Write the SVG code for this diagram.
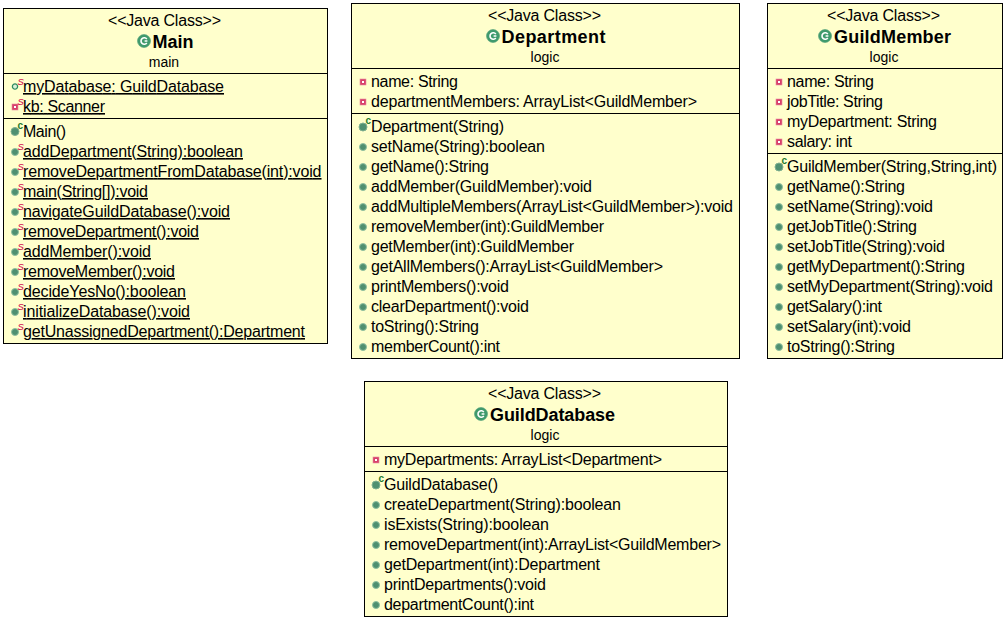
<svg xmlns="http://www.w3.org/2000/svg" width="1006" height="620" viewBox="0 0 1006 620">
<style>
text{font-family:"Liberation Sans",Arial,sans-serif;font-size:16px;fill:#000}
.box{fill:#ffffcc;stroke:#000;stroke-width:1}
.div{stroke:#000;stroke-width:1;fill:none}
.st{text-anchor:middle}
.nm{font-size:18px;font-weight:bold;text-anchor:middle}
.pk{font-size:14px;text-anchor:middle}
.u{text-decoration:underline}
.mod{font-size:9.5px;font-style:italic;fill:#d0004a}
.modc{font-size:10px;font-weight:bold;fill:#1f7a2f}
</style>
<defs>
<g id="cls"><circle r="6.5" fill="#3f9a6c" stroke="#4f9f78" stroke-width="0.6"/><path d="M2.8-1.9A3.2 3.2 0 1 0 2.8 1.9M3.4 0H0.6" fill="none" stroke="#fff" stroke-width="1.6"/></g>
<g id="pub"><circle r="3.5" fill="#4f9070" stroke="#8fc0a0" stroke-width="1"/></g>
<g id="ctor"><circle r="4" fill="#4f9070" stroke="#7fb090" stroke-width="1"/></g>
<g id="fld"><circle r="2.6" fill="#d8f0d8" stroke="#2f8a60" stroke-width="1.3"/></g>
<g id="prv"><rect x="-3" y="-3" width="6" height="6" fill="#d8406a" stroke="#e88aa0" stroke-width="0.6"/><rect x="-1" y="-1" width="2" height="2" fill="#fff"/></g>
</defs>
<g id="connectors"/>
<g id="main-class">
<rect class="box" x="3.5" y="8.5" width="324" height="335"/>
<path class="div" d="M3.5 73.5H327.5M3.5 118.5H327.5"/>
<text class="st" x="164.5" y="26" textLength="113">&lt;&lt;Java Class&gt;&gt;</text>
<use href="#cls" x="144" y="41"/>
<text class="nm" x="173" y="48">Main</text>
<text class="pk" x="164" y="67">main</text>
<use href="#fld" x="15" y="86.5"/><text class="mod" x="17.5" y="84.5">S</text><text class="u" x="23" y="92" textLength="201">myDatabase: GuildDatabase</text>
<use href="#prv" x="15" y="107"/><text class="mod" x="17.5" y="104.5">S</text><text class="u" x="23" y="112" textLength="82">kb: Scanner</text>
<use href="#ctor" x="15" y="131.5"/><text class="modc" x="17.5" y="129">c</text><text x="23" y="137" textLength="43">Main()</text>
<use href="#pub" x="15" y="152"/><text class="mod" x="17.5" y="149.5">S</text><text class="u" x="23" y="157" textLength="220">addDepartment(String):boolean</text>
<use href="#pub" x="15" y="172"/><text class="mod" x="17.5" y="169.5">S</text><text class="u" x="23" y="177" textLength="298.5">removeDepartmentFromDatabase(int):void</text>
<use href="#pub" x="15" y="192"/><text class="mod" x="17.5" y="189.5">S</text><text class="u" x="23" y="197" textLength="125">main(String[]):void</text>
<use href="#pub" x="15" y="212"/><text class="mod" x="17.5" y="209.5">S</text><text class="u" x="23" y="217" textLength="207">navigateGuildDatabase():void</text>
<use href="#pub" x="15" y="232"/><text class="mod" x="17.5" y="229.5">S</text><text class="u" x="23" y="237" textLength="176">removeDepartment():void</text>
<use href="#pub" x="15" y="252"/><text class="mod" x="17.5" y="249.5">S</text><text class="u" x="23" y="257" textLength="128">addMember():void</text>
<use href="#pub" x="15" y="272"/><text class="mod" x="17.5" y="269.5">S</text><text class="u" x="23" y="277" textLength="152">removeMember():void</text>
<use href="#pub" x="15" y="292"/><text class="mod" x="17.5" y="289.5">S</text><text class="u" x="23" y="297" textLength="163">decideYesNo():boolean</text>
<use href="#pub" x="15" y="312"/><text class="mod" x="17.5" y="309.5">S</text><text class="u" x="23" y="317" textLength="167">initializeDatabase():void</text>
<use href="#pub" x="15" y="332"/><text class="mod" x="17.5" y="329.5">S</text><text class="u" x="23" y="337" textLength="282">getUnassignedDepartment():Department</text>
</g>
<g id="department">
<rect class="box" x="351.5" y="3.5" width="388" height="355"/>
<path class="div" d="M351.5 68.5H739.5M351.5 113.5H739.5"/>
<text class="st" x="544.5" y="21" textLength="113">&lt;&lt;Java Class&gt;&gt;</text>
<use href="#cls" x="493" y="36"/>
<text class="nm" x="553.5" y="43" textLength="104">Department</text>
<text class="pk" x="545" y="62">logic</text>
<use href="#prv" x="363" y="82"/><text x="371" y="87" textLength="87">name: String</text>
<use href="#prv" x="363" y="102"/><text x="371" y="107" textLength="326">departmentMembers: ArrayList&lt;GuildMember&gt;</text>
<use href="#ctor" x="363" y="127"/><text class="modc" x="365.5" y="124">c</text><text x="371" y="132" textLength="133">Department(String)</text>
<use href="#pub" x="363" y="147"/><text x="371" y="152" textLength="174">setName(String):boolean</text>
<use href="#pub" x="363" y="167"/><text x="371" y="172" textLength="118">getName():String</text>
<use href="#pub" x="363" y="187"/><text x="371" y="192" textLength="221">addMember(GuildMember):void</text>
<use href="#pub" x="363" y="207"/><text x="371" y="212" textLength="362">addMultipleMembers(ArrayList&lt;GuildMember&gt;):void</text>
<use href="#pub" x="363" y="227"/><text x="371" y="232" textLength="233">removeMember(int):GuildMember</text>
<use href="#pub" x="363" y="247"/><text x="371" y="252" textLength="203">getMember(int):GuildMember</text>
<use href="#pub" x="363" y="267"/><text x="371" y="272" textLength="292">getAllMembers():ArrayList&lt;GuildMember&gt;</text>
<use href="#pub" x="363" y="287"/><text x="371" y="292" textLength="138">printMembers():void</text>
<use href="#pub" x="363" y="307"/><text x="371" y="312" textLength="158">clearDepartment():void</text>
<use href="#pub" x="363" y="327"/><text x="371" y="332" textLength="108">toString():String</text>
<use href="#pub" x="363" y="347"/><text x="371" y="352" textLength="129">memberCount():int</text>
</g>
<g id="guildmember">
<rect class="box" x="767.5" y="3.5" width="235" height="355"/>
<path class="div" d="M767.5 68.5H1002.5M767.5 153.5H1002.5"/>
<text class="st" x="883.5" y="21" textLength="113">&lt;&lt;Java Class&gt;&gt;</text>
<use href="#cls" x="825" y="36"/>
<text class="nm" x="892.5" y="43" textLength="117">GuildMember</text>
<text class="pk" x="884" y="62">logic</text>
<use href="#prv" x="779" y="82"/><text x="787" y="87" textLength="87">name: String</text>
<use href="#prv" x="779" y="102"/><text x="787" y="107" textLength="96">jobTitle: String</text>
<use href="#prv" x="779" y="122"/><text x="787" y="127" textLength="150">myDepartment: String</text>
<use href="#prv" x="779" y="142"/><text x="787" y="147" textLength="65">salary: int</text>
<use href="#ctor" x="779" y="167"/><text class="modc" x="781.5" y="164">c</text><text x="787" y="172" textLength="210">GuildMember(String,String,int)</text>
<use href="#pub" x="779" y="187"/><text x="787" y="192" textLength="118">getName():String</text>
<use href="#pub" x="779" y="207"/><text x="787" y="212" textLength="146">setName(String):void</text>
<use href="#pub" x="779" y="227"/><text x="787" y="232" textLength="130">getJobTitle():String</text>
<use href="#pub" x="779" y="247"/><text x="787" y="252" textLength="158">setJobTitle(String):void</text>
<use href="#pub" x="779" y="267"/><text x="787" y="272" textLength="178">getMyDepartment():String</text>
<use href="#pub" x="779" y="287"/><text x="787" y="292" textLength="206">setMyDepartment(String):void</text>
<use href="#pub" x="779" y="307"/><text x="787" y="312" textLength="95">getSalary():int</text>
<use href="#pub" x="779" y="327"/><text x="787" y="332" textLength="124">setSalary(int):void</text>
<use href="#pub" x="779" y="347"/><text x="787" y="352" textLength="108">toString():String</text>
</g>
<g id="guilddatabase">
<rect class="box" x="364.5" y="381.5" width="363" height="235"/>
<path class="div" d="M364.5 446.5H727.5M364.5 471.5H727.5"/>
<text class="st" x="544.5" y="399" textLength="113">&lt;&lt;Java Class&gt;&gt;</text>
<use href="#cls" x="481" y="414"/>
<text class="nm" x="552.5" y="421" textLength="125">GuildDatabase</text>
<text class="pk" x="545" y="440">logic</text>
<use href="#prv" x="376" y="460"/><text x="384" y="465" textLength="278">myDepartments: ArrayList&lt;Department&gt;</text>
<use href="#ctor" x="376" y="485"/><text class="modc" x="378.5" y="482">c</text><text x="384" y="490" textLength="114">GuildDatabase()</text>
<use href="#pub" x="376" y="505"/><text x="384" y="510" textLength="237">createDepartment(String):boolean</text>
<use href="#pub" x="376" y="525"/><text x="384" y="530" textLength="165">isExists(String):boolean</text>
<use href="#pub" x="376" y="545"/><text x="384" y="550" textLength="337">removeDepartment(int):ArrayList&lt;GuildMember&gt;</text>
<use href="#pub" x="376" y="565"/><text x="384" y="570" textLength="216">getDepartment(int):Department</text>
<use href="#pub" x="376" y="585"/><text x="384" y="590" textLength="162">printDepartments():void</text>
<use href="#pub" x="376" y="605"/><text x="384" y="610" textLength="150">departmentCount():int</text>
</g>
</svg>
